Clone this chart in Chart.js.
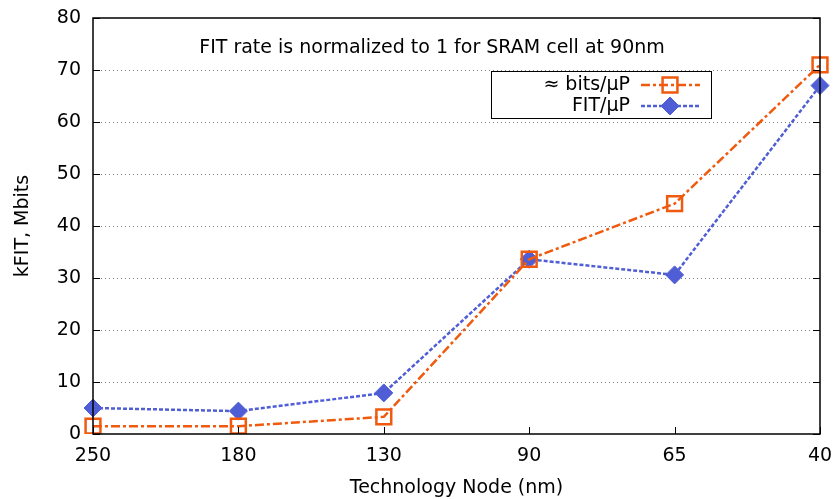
<!DOCTYPE html>
<html lang="en">
<head>
    <meta charset="UTF-8">
    <title>kFIT vs technology node</title>
    <script src="https://cdn.jsdelivr.net/npm/chart.js"></script>
    <style>
        html, body { margin: 0; padding: 0; background: #fff; }
    </style>
</head>
<body>
    <canvas id="grafico" width="833" height="499"></canvas>

    <script>
        // dados
        const nodes = ['250', '180', '130', '90', '65', '40']
        const bitsPorUP = [1.5, 1.5, 3.3, 33.6, 44.3, 71]
        const fitPorUP = [5.0, 4.4, 7.9, 33.6, 30.6, 67]
        const yTicks = [0, 10, 20, 30, 40, 50, 60, 70, 80]
        const nota = 'FIT rate is normalized to 1 for SRAM cell at 90nm'

        const fonte = '"DejaVu Sans", sans-serif'
        const tam = 19
        const laranja = '#f05a0f'
        const azul = '#505ed6'

        function marcador(ctx, ds, px, py) {
            ctx.save()
            ctx.setLineDash([])
            ctx.fillStyle = ds.pointBackgroundColor
            ctx.strokeStyle = ds.pointBorderColor
            ctx.lineWidth = ds.pointBorderWidth
            const r = ds.pointRadius
            ctx.beginPath()
            if (ds.pointStyle === 'rect') {
                const s = Math.SQRT1_2 * r
                ctx.rect(px - s, py - s, 2 * s, 2 * s)
            } else {
                ctx.moveTo(px, py - r); ctx.lineTo(px + r, py)
                ctx.lineTo(px, py + r); ctx.lineTo(px - r, py)
                ctx.closePath()
            }
            ctx.fill()
            ctx.stroke()
            ctx.restore()
        }

        // moldura, ticks para dentro, nota e legenda estilo gnuplot
        const extras = {
            id: 'extras',
            afterDatasetsDraw(chart) {
                const ctx = chart.ctx
                const a = chart.chartArea
                const x = chart.scales.x
                const y = chart.scales.y
                ctx.save()
                ctx.strokeStyle = '#000'
                ctx.lineWidth = 1.5
                ctx.setLineDash([])
                ctx.strokeRect(a.left, a.top, a.right - a.left, a.bottom - a.top)

                ctx.lineWidth = 1
                ctx.beginPath()
                yTicks.forEach(function (v) {
                    const py = Math.round(y.getPixelForValue(v)) + 0.5
                    ctx.moveTo(a.left, py); ctx.lineTo(a.left + 7, py)
                    ctx.moveTo(a.right, py); ctx.lineTo(a.right - 7, py)
                })
                nodes.forEach(function (n, i) {
                    const px = Math.round(x.getPixelForValue(i)) + 0.5
                    ctx.moveTo(px, a.bottom); ctx.lineTo(px, a.bottom - 7)
                })
                ctx.stroke()

                ctx.fillStyle = '#000'
                ctx.font = tam + 'px ' + fonte
                ctx.textAlign = 'center'
                ctx.textBaseline = 'middle'
                ctx.fillText(nota, 432, 48)

                // legenda
                const bx = 491, by = 71, bw = 220, bh = 47
                ctx.fillStyle = '#fff'
                ctx.fillRect(bx, by, bw, bh)
                ctx.strokeStyle = '#000'
                ctx.lineWidth = 1
                ctx.strokeRect(bx + 0.5, by + 0.5, bw, bh)

                const linhas = [
                    { ds: chart.data.datasets[0], y: 85 },
                    { ds: chart.data.datasets[1], y: 106 }
                ]
                linhas.forEach(function (l) {
                    ctx.fillStyle = '#000'
                    ctx.textAlign = 'right'
                    ctx.fillText(l.ds.label, 630, l.y)
                    ctx.strokeStyle = l.ds.borderColor
                    ctx.lineWidth = l.ds.borderWidth
                    ctx.setLineDash(l.ds.borderDash)
                    ctx.beginPath()
                    ctx.moveTo(641, l.y); ctx.lineTo(700, l.y)
                    ctx.stroke()
                    marcador(ctx, l.ds, 670, l.y)
                })
                ctx.restore()
            }
        }

        const ctx = document.getElementById('grafico')
        new Chart(ctx, {
            type: 'line',
            data: {
                labels: nodes,
                datasets: [{
                    label: '\u2248 bits/\u00b5P',
                    data: bitsPorUP,
                    borderColor: laranja,
                    borderWidth: 2.5,
                    borderDash: [9, 3, 3, 3],
                    pointStyle: 'rect',
                    pointRadius: 10.5,
                    pointBorderWidth: 2.5,
                    pointBorderColor: laranja,
                    pointBackgroundColor: 'rgba(255,255,255,0)',
                    fill: false,
                    tension: 0
                }, {
                    label: 'FIT/\u00b5P',
                    data: fitPorUP,
                    borderColor: azul,
                    borderWidth: 2.5,
                    borderDash: [4, 2],
                    pointStyle: 'rectRot',
                    pointRadius: 9,
                    pointBorderWidth: 1,
                    pointBorderColor: azul,
                    pointBackgroundColor: azul,
                    fill: false,
                    tension: 0
                }]
            },
            options: {
                responsive: false,
                animation: false,
                devicePixelRatio: 1,
                layout: { padding: { left: 0, right: 13, top: 18, bottom: 0 } },
                plugins: {
                    legend: { display: false },
                    tooltip: { enabled: false }
                },
                scales: {
                    x: {
                        offset: false,
                        grid: { display: false, drawTicks: false },
                        border: { display: false },
                        ticks: {
                            color: '#000',
                            font: { family: fonte, size: tam },
                            padding: 11,
                            maxRotation: 0
                        },
                        title: {
                            display: true,
                            text: 'Technology Node (nm)',
                            color: '#000',
                            font: { family: fonte, size: tam },
                            padding: { top: 6, bottom: 0 }
                        },
                        afterFit(scale) {
                            scale.height = 65
                            scale.paddingLeft = 0
                            scale.paddingRight = 0
                        }
                    },
                    y: {
                        min: 0,
                        max: 80,
                        afterBuildTicks(scale) {
                            scale.ticks = yTicks.map(function (v) { return { value: v } })
                        },
                        grid: {
                            color: function (c) {
                                return (c.tick.value === 0 || c.tick.value === 80) ? 'rgba(0,0,0,0)' : '#808080'
                            },
                            lineWidth: 1,
                            drawTicks: false
                        },
                        border: { display: false, dash: [1, 3] },
                        ticks: {
                            color: '#000',
                            font: { family: fonte, size: tam },
                            padding: 12
                        },
                        title: {
                            display: true,
                            text: 'kFIT, Mbits',
                            color: '#000',
                            font: { family: fonte, size: tam },
                            padding: { top: 12, bottom: 10 }
                        },
                        afterFit(scale) {
                            scale.width = 93
                            scale.paddingTop = 0
                            scale.paddingBottom = 0
                        }
                    }
                }
            },
            plugins: [extras]
        })
    </script>
</body>
</html>
